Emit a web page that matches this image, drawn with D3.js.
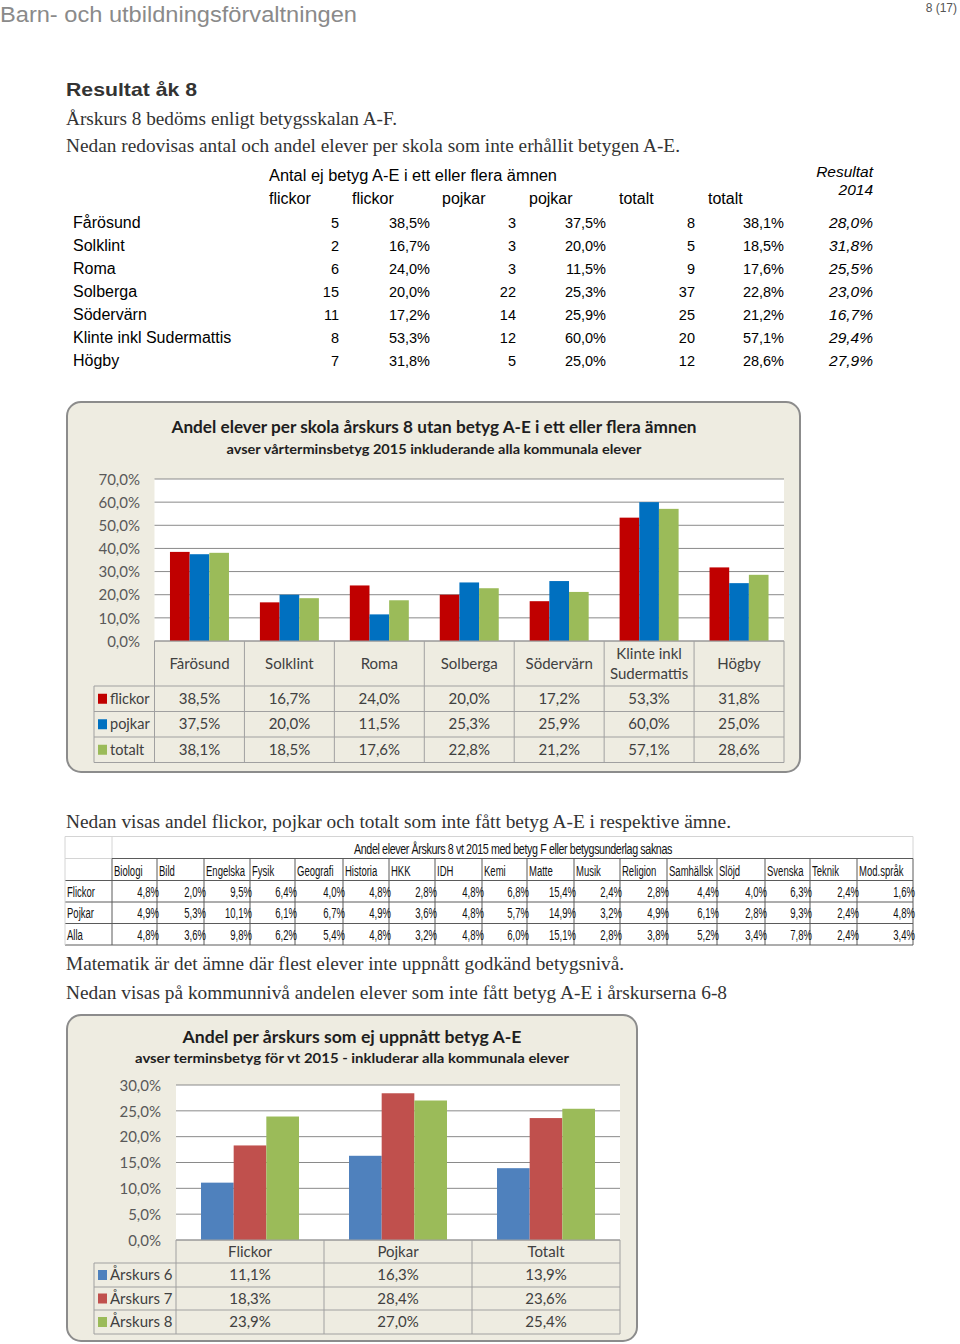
<!DOCTYPE html>
<html><head><meta charset="utf-8">
<script src="https://cdn.jsdelivr.net/npm/d3@7"></script>
<style>body{margin:0;background:#fff} svg{display:block}</style>
</head><body>
<svg id="page" width="960" height="1344"></svg>
<script>
// ---------- DATA ----------
const schools = ["Fårösund","Solklint","Roma","Solberga","Södervärn","Klinte inkl Sudermattis","Högby"];
const schoolLabels = [["Fårösund"],["Solklint"],["Roma"],["Solberga"],["Södervärn"],["Klinte inkl","Sudermattis"],["Högby"]];
const flickorCount = [5,2,6,15,11,8,7];
const flickorPct = [38.5,16.7,24.0,20.0,17.2,53.3,31.8];
const pojkarCount = [3,3,3,22,14,12,5];
const pojkarPct = [37.5,20.0,11.5,25.3,25.9,60.0,25.0];
const totaltCount = [8,5,9,37,25,20,12];
const totaltPct = [38.1,18.5,17.6,22.8,21.2,57.1,28.6];
const result2014 = [28.0,31.8,25.5,23.0,16.7,29.4,27.9];
const chart1Series = ["flickor","pojkar","totalt"];
const chart1Ticks = [0,10,20,30,40,50,60,70];

const subjects = ["Biologi","Bild","Engelska","Fysik","Geografi","Historia","HKK","IDH","Kemi","Matte","Musik","Religion","Samhällsk","Slöjd","Svenska","Teknik","Mod.språk"];
const subjRows = ["Flickor","Pojkar","Alla"];
const subjFlickor = [4.8,2.0,9.5,6.4,4.0,4.8,2.8,4.8,6.8,15.4,2.4,2.8,4.4,4.0,6.3,2.4,1.6];
const subjPojkar  = [4.9,5.3,10.1,6.1,6.7,4.9,3.6,4.8,5.7,14.9,3.2,4.9,6.1,2.8,9.3,2.4,4.8];
const subjAlla    = [4.8,3.6,9.8,6.2,5.4,4.8,3.2,4.8,6.0,15.1,2.8,3.8,5.2,3.4,7.8,2.4,3.4];

const groups2 = ["Flickor","Pojkar","Totalt"];
const chart2Series = ["Årskurs 6","Årskurs 7","Årskurs 8"];
const ak6 = [11.1,16.3,13.9];
const ak7 = [18.3,28.4,23.6];
const ak8 = [23.9,27.0,25.4];
const chart2Ticks = [0,5,10,15,20,25,30];

// ---------- HELPERS ----------
const loc = d3.formatLocale({decimal:",", thousands:" ", grouping:[3], currency:["","kr"]});
const f1 = loc.format(".1f");
const pct = v => f1(v) + "%";
const svg = d3.select("#page");
const SANS = "'Liberation Sans', Arial, sans-serif";
const SERIF = "'Liberation Serif', 'Times New Roman', serif";
const CAL = "Lato, 'Open Sans', sans-serif";

function txt(g, x, y, s, o = {}) {
  const t = g.append("text").attr("x", x).attr("y", y).text(s)
    .attr("font-family", o.font || SANS).attr("font-size", o.size || 14)
    .attr("fill", o.fill || "#000").attr("text-anchor", o.anchor || "start");
  if (o.weight) t.attr("font-weight", o.weight);
  if (o.style) t.attr("font-style", o.style);
  if (o.len) t.attr("textLength", o.len).attr("lengthAdjust", "spacingAndGlyphs");
  if (o.ls) t.attr("letter-spacing", o.ls);
  return t;
}
// condensed text (horizontal squeeze)
function ctxt(g, x, y, s, o = {}) {
  const gg = g.append("g").attr("transform", `translate(${x},${y}) scale(${o.sx || 0.7},1)`);
  return txt(gg, 0, 0, s, o);
}

// ---------- PAGE HEADER ----------
txt(svg, 0, 22, "Barn- och utbildningsförvaltningen", {size: 22, fill: "#8a8a8a", len: 357});
txt(svg, 957, 12, "8 (17)", {size: 12, fill: "#555", anchor: "end"});
txt(svg, 66, 96, "Resultat åk 8", {size: 19, weight: "bold", fill: "#333", len: 131});
txt(svg, 66, 125, "Årskurs 8 bedöms enligt betygsskalan A-F.", {font: SERIF, size: 18, fill: "#333", len: 331});
txt(svg, 66, 152, "Nedan redovisas antal och andel elever per skola som inte erhållit betygen A-E.", {font: SERIF, size: 18, fill: "#333", len: 614});

// ---------- TABLE 1 ----------
const t1 = svg.append("g");
txt(t1, 269, 181, "Antal ej betyg A-E i ett eller flera ämnen", {size: 16, len: 288});
[["flickor",269],["flickor",352],["pojkar",442],["pojkar",529],["totalt",619],["totalt",708]]
  .forEach(([s,x]) => txt(t1, x, 204, s, {size: 16}));
txt(t1, 873, 177, "Resultat", {size: 15.5, style: "italic", anchor: "end"});
txt(t1, 873, 195, "2014", {size: 15.5, style: "italic", anchor: "end"});
const rowY = d3.scalePoint().domain(schools).range([228, 366]);
schools.forEach((s, i) => {
  const y = rowY(s);
  txt(t1, 73, y, s, {size: 16});
  const cols = [[flickorCount[i],339,false],[flickorPct[i],430,true],[pojkarCount[i],516,false],[pojkarPct[i],606,true],[totaltCount[i],695,false],[totaltPct[i],784,true]];
  cols.forEach(([v,x,p]) => txt(t1, x, y, p ? pct(v) : String(v), {size: 14.5, anchor: "end"}));
  txt(t1, 873, y, pct(result2014[i]), {size: 15.5, style: "italic", anchor: "end"});
});

// ---------- BAR CHART WITH DATA TABLE ----------
function barChart(cfg) {
  const g = svg.append("g");
  g.append("rect").attr("x", cfg.box[0]).attr("y", cfg.box[1]).attr("width", cfg.box[2]).attr("height", cfg.box[3])
    .attr("rx", 14).attr("fill", "#eeece1").attr("stroke", "#8c8c8c").attr("stroke-width", 2);
  txt(g, cfg.titleX, cfg.titleY, cfg.title, {font: CAL, size: cfg.titleSize, weight: "bold", fill: "#1e1e1e", anchor: "middle", len: cfg.titleLen});
  txt(g, cfg.titleX, cfg.subY, cfg.sub, {font: CAL, size: cfg.subSize, weight: "bold", fill: "#1e1e1e", anchor: "middle", len: cfg.subLen});

  const x = d3.scaleBand().domain(cfg.cats).range([cfg.left, cfg.right]).padding(0);
  const y = d3.scaleLinear().domain([0, cfg.yMax]).range([cfg.bottom, cfg.top]);
  const off = x.bandwidth() * cfg.groupPad;
  const xs = d3.scaleBand().domain(cfg.series).range([off, x.bandwidth() - off]).padding(0);

  g.append("rect").attr("x", cfg.left).attr("y", cfg.top).attr("width", cfg.right - cfg.left).attr("height", cfg.bottom - cfg.top).attr("fill", "#fff");
  g.append("g").selectAll("line").data(cfg.ticks).join("line")
    .attr("x1", cfg.left).attr("x2", cfg.right).attr("y1", d => y(d)).attr("y2", d => y(d))
    .attr("stroke", "#8a8a8a").attr("stroke-width", 1);
  const ax = g.append("g").attr("transform", `translate(${cfg.labelRight},0)`)
    .call(d3.axisLeft(y).tickValues(cfg.ticks).tickSize(0).tickPadding(0).tickFormat(pct));
  ax.select(".domain").remove();
  ax.selectAll("text").attr("font-family", CAL).attr("font-size", cfg.fs).attr("fill", "#595959").attr("dy", "0.35em");

  cfg.series.forEach((s, si) => {
    g.append("g").selectAll("rect").data(cfg.values[si]).join("rect")
      .attr("x", (d, i) => x(cfg.cats[i]) + xs(s)).attr("width", xs.bandwidth())
      .attr("y", d => y(d)).attr("height", d => y(0) - y(d)).attr("fill", cfg.colors[si]);
  });

  // data table
  const lc = "#a0a0a0";
  const rowsB = cfg.rowLines;
  g.append("line").attr("x1", cfg.left).attr("x2", cfg.right).attr("y1", cfg.bottom).attr("y2", cfg.bottom).attr("stroke", lc);
  rowsB.forEach(yy => g.append("line").attr("x1", cfg.legLeft).attr("x2", cfg.right).attr("y1", yy).attr("y2", yy).attr("stroke", lc));
  cfg.cats.forEach(c => g.append("line").attr("x1", x(c)).attr("x2", x(c)).attr("y1", cfg.bottom).attr("y2", rowsB[3]).attr("stroke", lc));
  g.append("line").attr("x1", cfg.right).attr("x2", cfg.right).attr("y1", cfg.bottom).attr("y2", rowsB[3]).attr("stroke", lc);
  g.append("line").attr("x1", cfg.legLeft).attr("x2", cfg.legLeft).attr("y1", rowsB[0]).attr("y2", rowsB[3]).attr("stroke", lc);

  const catMid = (cfg.bottom + rowsB[0]) / 2;
  cfg.catLabels.forEach((lines, i) => {
    const cx = x(cfg.cats[i]) + x.bandwidth() / 2;
    lines.forEach((l, li) => {
      const yy = catMid + 5 + (li - (lines.length - 1) / 2) * 20;
      txt(g, cx, yy, l, {font: CAL, size: cfg.fs, fill: "#404040", anchor: "middle"});
    });
  });
  cfg.series.forEach((s, si) => {
    const mid = (rowsB[si] + rowsB[si + 1]) / 2;
    g.append("rect").attr("x", cfg.legLeft + 4).attr("y", mid - 5).attr("width", 9).attr("height", 10).attr("fill", cfg.colors[si]);
    txt(g, cfg.legLeft + 16, mid + 5, s, {font: CAL, size: cfg.legFs, fill: "#404040"});
    cfg.values[si].forEach((v, i) => txt(g, x(cfg.cats[i]) + x.bandwidth() / 2, mid + 5, pct(v), {font: CAL, size: cfg.fs, fill: "#404040", anchor: "middle"}));
  });
}

barChart({
  box: [67, 402, 733, 370],
  title: "Andel elever per skola årskurs 8 utan betyg A-E i ett eller flera ämnen", titleX: 434, titleY: 433, titleSize: 17, titleLen: 525,
  sub: "avser vårterminsbetyg 2015 inkluderande alla kommunala elever", subY: 454, subSize: 14, subLen: 415,
  cats: schools, catLabels: schoolLabels, series: chart1Series,
  values: [flickorPct, pojkarPct, totaltPct], colors: ["#c00000", "#0070c0", "#9bbb59"],
  left: 154.5, right: 784, top: 479, bottom: 641, yMax: 70, ticks: chart1Ticks, labelRight: 140,
  groupPad: 0.172, rowLines: [686, 711.5, 737, 762.5], legLeft: 94, fs: 15, legFs: 14.5
});

// ---------- TEXT BETWEEN ----------
txt(svg, 66, 828, "Nedan visas andel flickor, pojkar och totalt som inte fått betyg A-E i respektive ämne.", {font: SERIF, size: 18, fill: "#333", len: 665});

// ---------- SUBJECT TABLE ----------
const st = svg.append("g");
const colEdges = [112,157,204,250,295,343,389,435,482,527,574,620,667,717,765,810,857,913];
const sx = d3.scaleOrdinal().domain(subjects).range(colEdges.slice(0, -1));
const sRows = [836.5, 858.5, 880.5, 902, 923.5, 945];
const dark = "#5a5a5a", light = "#d4d4d4";
st.append("line").attr("x1", 65).attr("x2", 913).attr("y1", sRows[0]).attr("y2", sRows[0]).attr("stroke", light);
st.append("line").attr("x1", 65).attr("x2", 65).attr("y1", sRows[0]).attr("y2", sRows[1]).attr("stroke", light);
st.append("line").attr("x1", 112).attr("x2", 112).attr("y1", sRows[0]).attr("y2", sRows[1]).attr("stroke", light);
st.append("line").attr("x1", 913).attr("x2", 913).attr("y1", sRows[0]).attr("y2", sRows[1]).attr("stroke", light);
st.append("line").attr("x1", 65).attr("x2", 112).attr("y1", sRows[1]).attr("y2", sRows[1]).attr("stroke", light);
st.append("line").attr("x1", 112).attr("x2", 913).attr("y1", sRows[1]).attr("y2", sRows[1]).attr("stroke", dark);
sRows.slice(2).forEach(yy => st.append("line").attr("x1", 65).attr("x2", 913).attr("y1", yy).attr("y2", yy).attr("stroke", dark));
st.append("line").attr("x1", 65).attr("x2", 65).attr("y1", sRows[1]).attr("y2", sRows[5]).attr("stroke", light);
colEdges.forEach(cx => st.append("line").attr("x1", cx).attr("x2", cx).attr("y1", sRows[1]).attr("y2", sRows[5]).attr("stroke", dark));
txt(st, 513, 854, "Andel elever Årskurs 8 vt 2015 med betyg F eller betygsunderlag saknas", {size: 14, fill: "#111", anchor: "middle", len: 318, ls: -0.5});
const sOpt = {size: 14, fill: "#111", sx: 0.68};
subjects.forEach(s => ctxt(st, sx(s) + 2, 876, s, sOpt));
[subjFlickor, subjPojkar, subjAlla].forEach((arr, ri) => {
  const yy = sRows[ri + 2] + 16;
  ctxt(st, 67, yy, subjRows[ri], sOpt);
  arr.forEach((v, i) => {
    const right = colEdges[i + 1];
    ctxt(st, right + 2, yy, pct(v), {...sOpt, anchor: "end"});
  });
});

txt(svg, 66, 970, "Matematik är det ämne där flest elever inte uppnått godkänd betygsnivå.", {font: SERIF, size: 18, fill: "#333", len: 558});
txt(svg, 66, 999, "Nedan visas på kommunnivå andelen elever som inte fått betyg A-E i årskurserna 6-8", {font: SERIF, size: 18, fill: "#333", len: 661});

// ---------- CHART 2 ----------
barChart({
  box: [67, 1015, 570, 326],
  title: "Andel per årskurs som ej uppnått betyg A-E", titleX: 352, titleY: 1043, titleSize: 17, titleLen: 339,
  sub: "avser terminsbetyg för vt 2015 - inkluderar alla kommunala elever", subY: 1063, subSize: 14, subLen: 434,
  cats: groups2, catLabels: groups2.map(d => [d]), series: chart2Series,
  values: [ak6, ak7, ak8], colors: ["#4f81bd", "#c0504d", "#9bbb59"],
  left: 176, right: 620, top: 1085, bottom: 1240, yMax: 30, ticks: chart2Ticks, labelRight: 161,
  groupPad: 0.169, rowLines: [1263, 1287, 1310, 1334], legLeft: 94, fs: 15, legFs: 15
});
</script>
</body></html>
